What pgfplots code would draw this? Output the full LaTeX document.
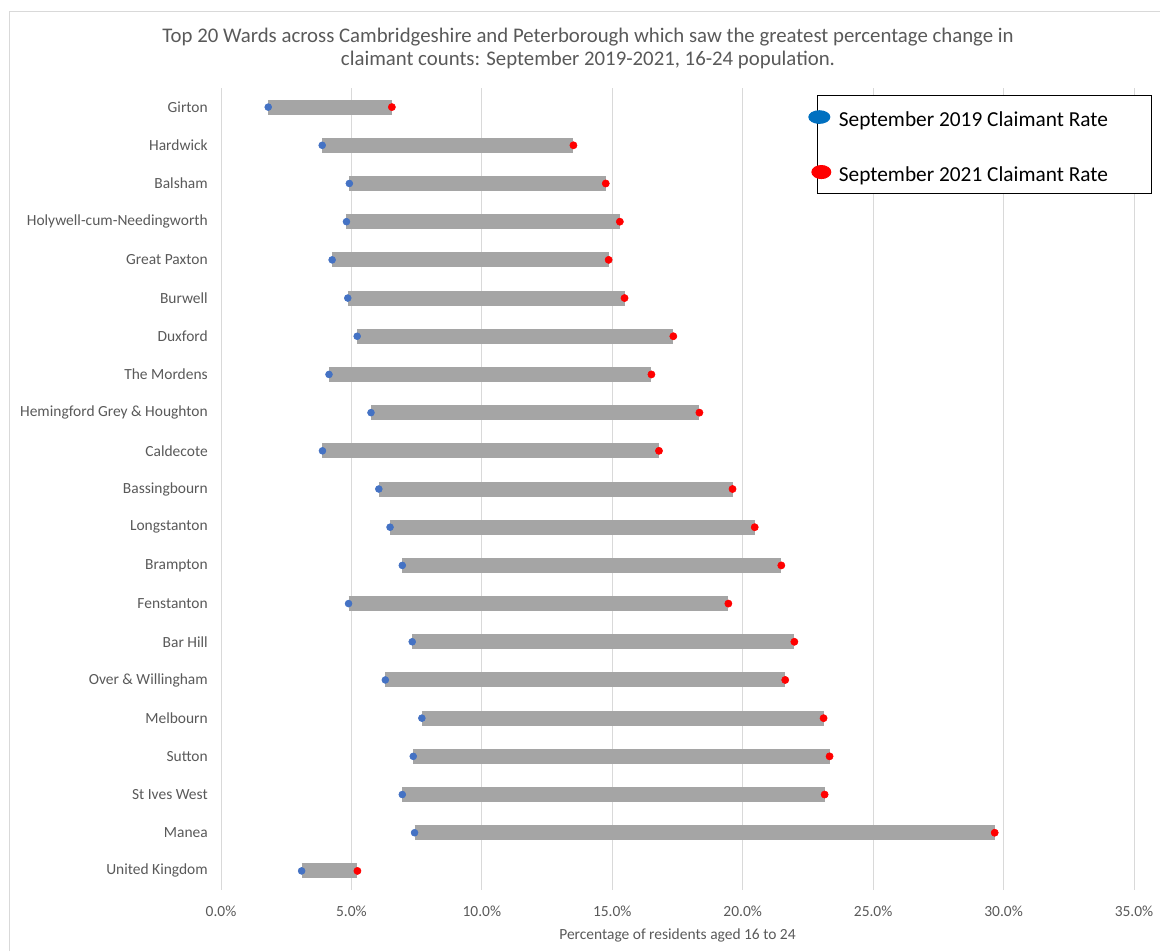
\documentclass[border=0pt]{standalone}
\usepackage{pgfplots}
\pgfplotsset{compat=1.18}
\usepackage{pgfplotstable}
\usepackage{fontspec}
\setmainfont{Carlito}
\definecolor{barGray}{HTML}{A5A5A5}
\definecolor{dotBlue}{HTML}{4472C4}
\definecolor{dotRed}{HTML}{FF0000}
\definecolor{legBlue}{HTML}{0070C0}
\definecolor{txtGray}{HTML}{595959}
\definecolor{gridGray}{HTML}{D9D9D9}

% pos: 0 = Girton (top) ... 20 = United Kingdom (bottom); rates in percent
\pgfplotstableread{
pos r19 r21
0 1.81 6.55
1 3.88 13.51
2 4.92 14.75
3 4.81 15.29
4 4.26 14.86
5 4.86 15.47
6 5.22 17.34
7 4.14 16.50
8 5.75 18.34
9 3.89 16.79
10 6.05 19.61
11 6.48 20.46
12 6.95 21.48
13 4.89 19.45
14 7.33 21.98
15 6.30 21.63
16 7.70 23.10
17 7.37 23.33
18 6.95 23.14
19 7.42 29.66
20 3.09 5.23
}\wards

\begin{document}
\begin{tikzpicture}
\path[use as bounding box] (0pt,0pt) rectangle (870pt,713.25pt);
\draw[gridGray, line width=0.75pt] (7.125pt,0pt) -- (7.125pt,704.625pt) -- (870pt,704.625pt);
\begin{axis}[
  at={(165.75pt,45.75pt)}, anchor=south west,
  scale only axis, width=684.75pt, height=601.5pt,
  xmin=0, xmax=35, ymin=-0.5, ymax=20.5, y dir=reverse,
  axis line style={draw=none},
  major tick length=0pt,
  xtick={0,5,...,35},
  xticklabels={0.0\%,5.0\%,10.0\%,15.0\%,20.0\%,25.0\%,30.0\%,35.0\%},
  ytick={0,...,20},
  yticklabels={Girton,Hardwick,Balsham,Holywell-cum-Needingworth,Great Paxton,Burwell,Duxford,The Mordens,Hemingford Grey \& Houghton,Caldecote,Bassingbourn,Longstanton,Brampton,Fenstanton,Bar Hill,Over \& Willingham,Melbourn,Sutton,St Ives West,Manea,United Kingdom},
  xmajorgrids, grid style={gridGray, line width=0.75pt},
  ticklabel style={font=\fontsize{11.6}{13}\selectfont, text=txtGray},
  yticklabel style={inner xsep=9.75pt},
  xticklabel style={inner ysep=0pt, yshift=-12.1pt},
  xlabel={Percentage of residents aged 16 to 24},
  xlabel style={at={(axis description cs:0.5,-0.0561)}, anchor=center, inner sep=0pt, font=\fontsize{11.6}{13}\selectfont, text=txtGray},
  legend cell align=left,
  legend style={at={(0.6525,0.9913)}, anchor=north west, draw=black, line width=0.75pt, fill=white,
    inner xsep=0pt, inner ysep=7.8pt, row sep=24.5pt, column sep=15.5pt,
    font=\fontsize{16}{19}\selectfont, text=black, nodes={inner sep=0pt}},
  clip=false,
]
\addplot[forget plot, only marks, mark=none,
  error bars/.cd, x dir=plus, x explicit, error mark=none,
  error bar style={barGray, line width=11.25pt}]
  table[x=r19, y=pos, x error expr=\thisrow{r21}-\thisrow{r19}] {\wards};
\addplot[forget plot, only marks, mark=*, mark size=2.6pt, color=dotBlue,
  mark options={draw=dotBlue, fill=dotBlue}]
  table[x=r19, y=pos] {\wards};
\addplot[forget plot, only marks, mark=*, mark size=2.7pt, color=dotRed,
  mark options={draw=dotRed, fill=dotRed}]
  table[x=r21, y=pos] {\wards};

\addlegendimage{legend image code/.code={\path[use as bounding box] (0pt,0pt) rectangle (0pt,0pt);
  \fill[legBlue] (1.2pt,0pt) ellipse [x radius=7.9pt, y radius=4.75pt];}}
\addlegendentry{\makebox[234.5pt][l]{\rule[-2.75pt]{0pt}{18pt}September 2019 Claimant Rate}}
\addlegendimage{legend image code/.code={\path[use as bounding box] (0pt,0pt) rectangle (0pt,0pt);
  \fill[dotRed] (2.7pt,0pt) ellipse [x radius=7.1pt, y radius=4.9pt];}}
\addlegendentry{\makebox[234.5pt][l]{\rule[-2.75pt]{0pt}{18pt}September 2021 Claimant Rate}}
\end{axis}
\node[align=center, text=txtGray, font=\fontsize{15.6}{17.25}\selectfont] at (441pt,676.9pt)
  {Top 20 Wards across Cambridgeshire and Peterborough which saw the greatest percentage change in\\claimant counts: September 2019-2021, 16-24 population.};
\end{tikzpicture}
\end{document}
